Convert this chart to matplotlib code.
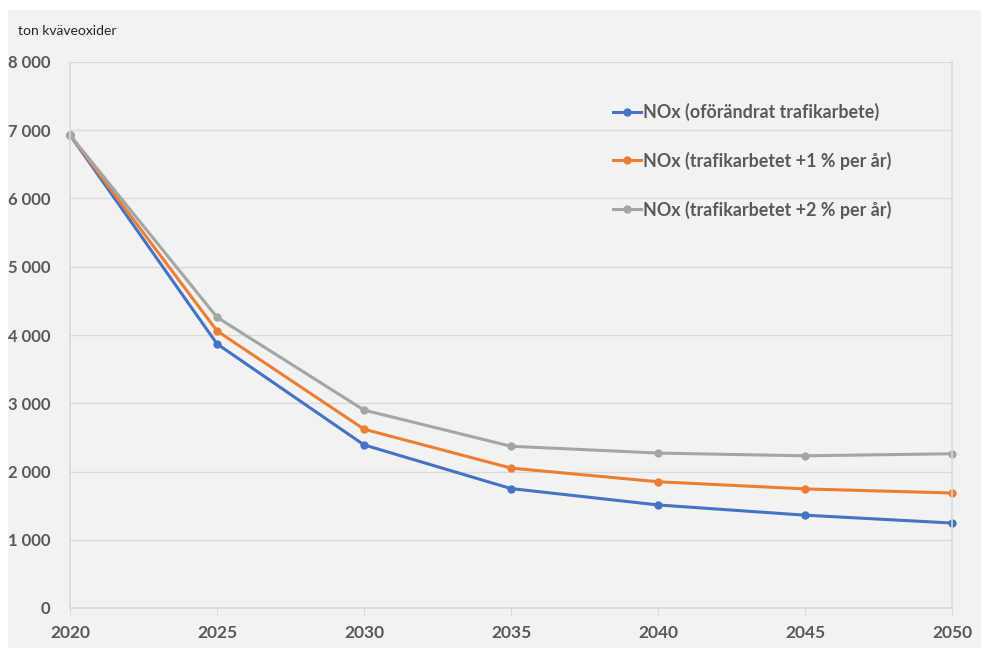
import matplotlib.pyplot as plt
from matplotlib.patches import Rectangle

years = [2020, 2025, 2030, 2035, 2040, 2045, 2050]
nox_oforandrat = [6930, 3870, 2390, 1750, 1510, 1360, 1245]
nox_plus1 = [6930, 4060, 2620, 2050, 1850, 1745, 1685]
nox_plus2 = [6930, 4260, 2900, 2370, 2270, 2230, 2260]
labels = ["NOx (oförändrat trafikarbete)",
          "NOx (trafikarbetet +1 % per år)",
          "NOx (trafikarbetet +2 % per år)"]
yticks = [0, 1000, 2000, 3000, 4000, 5000, 6000, 7000, 8000]

txt = "#595959"
grid = "#d9d9d9"
plt.rcParams['font.family'] = ['Lato', 'DejaVu Sans']

fig = plt.figure(figsize=(9.81, 6.48), dpi=100)
fig.patches.append(Rectangle((8/981, 0), 1, 1 - 10/648, transform=fig.transFigure,
                             facecolor="#f2f2f2", edgecolor="none", zorder=-10))
ax = fig.add_axes([70/981, 40/648, 882/981, 546/648])
ax.set_facecolor("#f2f2f2")

for vals, col, lab in zip([nox_oforandrat, nox_plus1, nox_plus2],
                          ["#4472c4", "#ed7d31", "#a5a5a5"], labels):
    ax.plot(years, vals, color=col, lw=2.2, marker="o", ms=5, label=lab, clip_on=False)

ax.set_xlim(2020, 2050)
ax.set_ylim(0, 8000)
ax.set_yticks(yticks)
ax.set_yticklabels([f"{v:,}".replace(",", " ") for v in yticks])
ax.set_xticks(years)
ax.yaxis.grid(True, color=grid, lw=1)
ax.set_axisbelow(True)
for s in ["left", "right", "bottom"]:
    ax.spines[s].set_color(grid)
    ax.spines[s].set_linewidth(1.2)
ax.spines["top"].set_visible(False)
ax.tick_params(axis="y", length=0, pad=14, labelsize=12, labelcolor=txt)
ax.tick_params(axis="x", length=6, color=grid, pad=6, labelsize=12.5, labelcolor=txt)
for t in ax.get_xticklabels() + ax.get_yticklabels():
    t.set_fontweight("bold")

leg = ax.legend(loc="upper left", bbox_to_anchor=(0.597, 0.955), frameon=False,
                handlelength=1.6, handletextpad=0.1, labelspacing=1.72,
                prop={"weight": "bold", "size": 12.9})
for t in leg.get_texts():
    t.set_color(txt)

fig.text(18/981, 1 - 31/648, "ton kväveoxider", fontsize=10, color="#262626", va="center")

fig.savefig("out.png", dpi=100)
